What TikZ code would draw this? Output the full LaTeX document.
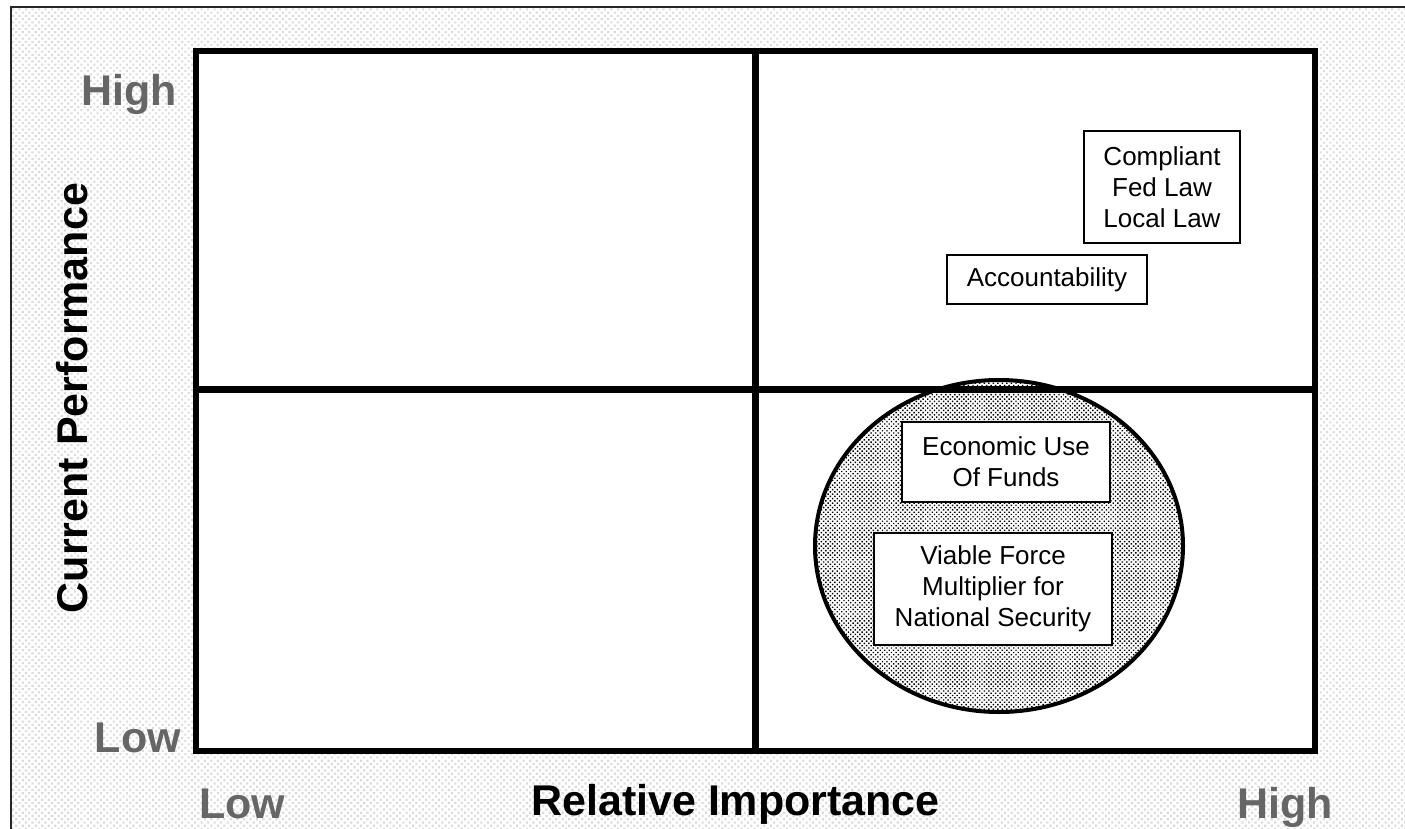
\documentclass[tikz,border=0pt]{standalone}
\usepackage{fontspec}
\setmainfont{Liberation Sans}
\usetikzlibrary{patterns.meta}
\definecolor{axisgray}{HTML}{666666}
\tikzset{
  itembox/.style={draw=black, line width=1.5pt, fill=white, align=center,
    inner sep=0pt, font=\fontsize{26}{31}\selectfont},
  axistitle/.style={inner sep=0pt, font=\fontsize{43}{50}\selectfont\bfseries},
  scalelabel/.style={axistitle, text=axisgray},
  gridline/.style={line width=6.5pt}
}
\begin{document}
\begin{tikzpicture}[x=1pt,y=-1pt]
\useasboundingbox (0,0) rectangle (1405,829);
\clip (0,0) rectangle (1405,829);
% page background with light dot texture and frame
\fill[white] (0,0) rectangle (1405,829);
\fill[pattern={Dots[distance=4.6pt,radius=1.5pt,angle=45]}, pattern color=gray!28]
  (11,7) rectangle (1405,829);
\draw[line width=2.5pt, black!85] (11,7) rectangle (1420,845);
% matrix area
\fill[white] (196,51) rectangle (1315,751);
% highlighted cluster
\fill[white] (999,546) ellipse [x radius=184, y radius=166];
\fill[pattern={Dots[distance=3.2pt,radius=1pt,angle=45]}, pattern color=black]
  (999,546) ellipse [x radius=184, y radius=166];
\draw[line width=4pt] (999,546) ellipse [x radius=184, y radius=166];
% quadrant dividers and outline
\coordinate (vtop) at (755.5,51);
\coordinate (vbot) at (755.5,751);
\coordinate (hleft) at (196,389.5);
\coordinate (hright) at (1315,389.5);
\draw[gridline] (vtop) -- (vbot);
\draw[gridline] (hleft) -- (hright);
\draw[gridline] (196,51) rectangle (1315,751);
% items
\node[itembox, minimum width=156pt, minimum height=112pt] (compliant) at (1162,187)
  {Compliant\\Fed Law\\Local Law};
\node[itembox, minimum width=200pt, minimum height=49pt] (account) at (1047,279.5)
  {Accountability};
\node[itembox, minimum width=208pt, minimum height=80pt] (funds) at (1006,462)
  {Economic Use\\Of Funds};
\node[itembox, minimum width=238pt, minimum height=112pt] (force) at (993,589)
  {Viable Force\\Multiplier for\\National Security};
% axis labels
\node[scalelabel, anchor=base east] (yhigh) at (177,106) {High};
\node[scalelabel, anchor=base east] (ylow) at (181,752) {Low};
\node[scalelabel, anchor=base west] (xlow) at (199,818) {Low};
\node[scalelabel, anchor=base east] (xhigh) at (1333,818) {High};
\node[axistitle, anchor=base west] (xtitle) at (531,815) {Relative Importance};
\node[axistitle, anchor=base, rotate=90] (ytitle) at (87,398) {Current Performance};
\end{tikzpicture}
\end{document}
